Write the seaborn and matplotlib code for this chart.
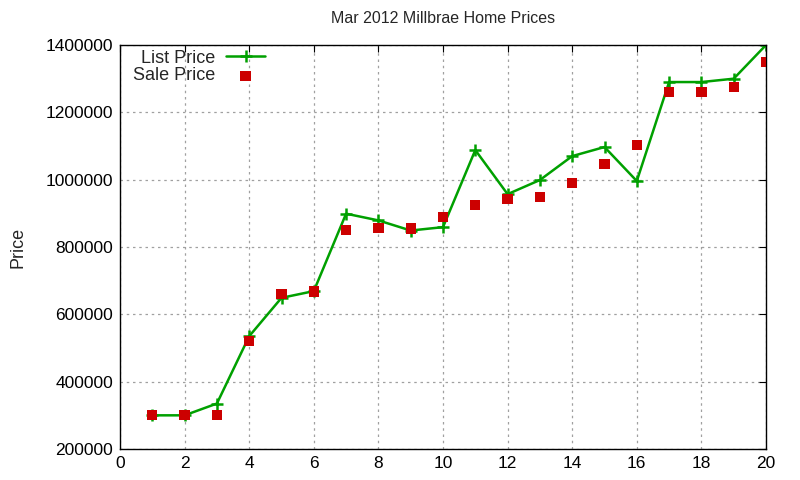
import seaborn as sns
import pandas as pd
import matplotlib.pyplot as plt

# values
homes = list(range(1, 21))
list_price = [300000, 300000, 335000, 535000, 649000, 669000, 899000, 879000, 849000, 859000,
              1088000, 957000, 999000, 1070000, 1097000, 996000, 1290000, 1290000, 1300000, 1400000]
sale_price = [300000, 300000, 302000, 520000, 660000, 668000, 850000, 856000, 855000, 889000,
              925000, 943000, 948000, 990000, 1047000, 1104000, 1260000, 1260000, 1275000, 1350000]

df = pd.DataFrame({"home": homes, "list": list_price, "sale": sale_price})

sns.set_style("white")
plt.rcParams["font.family"] = ["Liberation Sans", "DejaVu Sans"]

fig = plt.figure(figsize=(8, 4.8), dpi=100)
ax = fig.add_axes([0.15, 0.0646, 0.8075, 0.8416])

green = "#00a000"
sns.lineplot(ax=ax, data=df, x="home", y="list", color=green, linewidth=1.8,
             marker="+", markersize=9, markeredgewidth=1.8, markeredgecolor=green,
             label="List Price", zorder=2)
sns.scatterplot(ax=ax, data=df, x="home", y="sale", color="#cc0000", marker="s",
                s=55, edgecolor="none", label="Sale Price", zorder=3)

ax.set_xlim(0, 20)
ax.set_ylim(200000, 1400000)
ax.set_xticks(range(0, 21, 2))
ax.set_yticks(range(200000, 1400001, 200000))
ax.ticklabel_format(style="plain", axis="y")
ax.tick_params(direction="in", top=True, right=True, length=5, labelsize=12.5,
               colors="black", pad=5)
ax.grid(True, color="#a0a0a0", linestyle=(0, (2, 3)), linewidth=0.9)
for s in ax.spines.values():
    s.set_color("black")
    s.set_linewidth(1.0)

ax.set_xlabel("")
ax.set_ylabel("Price", fontsize=13, labelpad=14)
ax.set_title("Mar 2012 Millbrae Home Prices", fontsize=11.5, pad=16)

ax.legend(loc="upper left", bbox_to_anchor=(0.0, 1.02), frameon=False, markerfirst=False,
          fontsize=13, handlelength=2.2, labelspacing=0.05, borderaxespad=0.3,
          handletextpad=0.6)

plt.savefig("out.png", dpi=100)
